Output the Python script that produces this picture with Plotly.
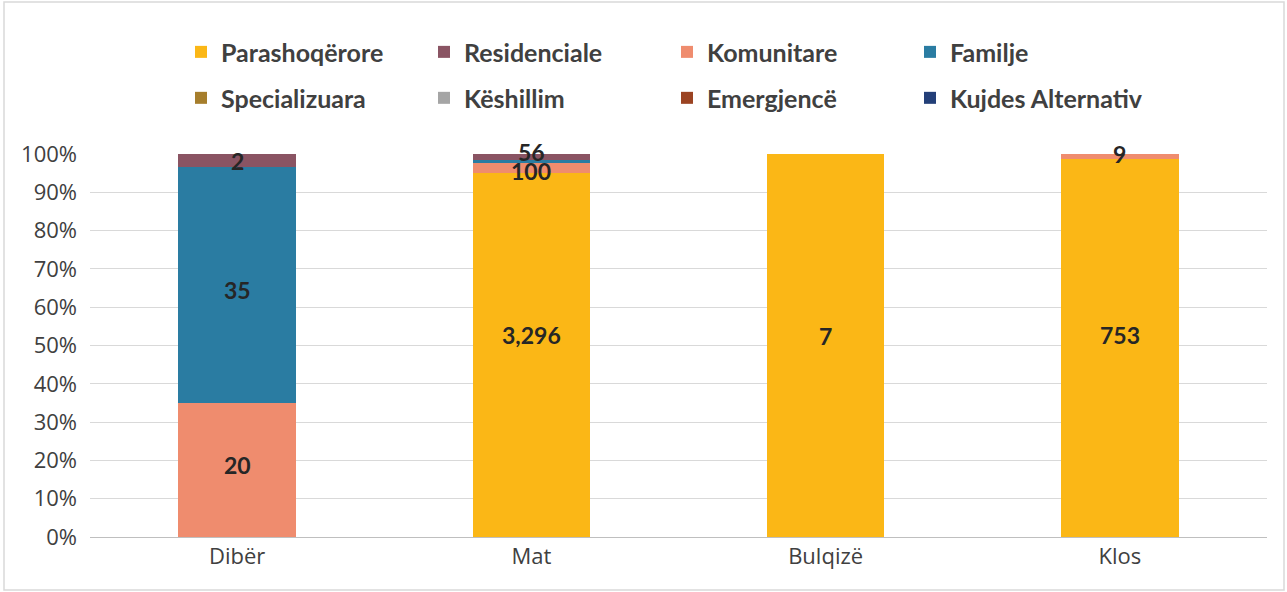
import plotly.graph_objects as go

categories = ["Dibër", "Mat", "Bulqizë", "Klos"]
series_names = ["Parashoqërore", "Residenciale", "Komunitare", "Familje",
                "Specializuara", "Këshillim", "Emergjencë", "Kujdes Alternativ"]
parashoqerore = [0, 3296, 7, 753]
residenciale = [2, 56, 0, 0]
komunitare = [20, 100, 0, 9]
familje = [35, 17, 0, 0]
specializuara = [0, 0, 0, 0]
keshillim = [0, 0, 0, 0]
emergjence = [0, 0, 0, 0]
kujdes_alternativ = [0, 0, 0, 0]
y_ticks = [0, 10, 20, 30, 40, 50, 60, 70, 80, 90, 100]
y_tick_labels = [f"{t}%" for t in y_ticks]

colors = {
    "Parashoqërore": "#FBB716",
    "Residenciale": "#8A5463",
    "Komunitare": "#EF8C6E",
    "Familje": "#2A7CA2",
    "Specializuara": "#A67E2C",
    "Këshillim": "#A5A5A5",
    "Emergjencë": "#9B4322",
    "Kujdes Alternativ": "#233F78",
}
values = {
    "Parashoqërore": parashoqerore,
    "Residenciale": residenciale,
    "Komunitare": komunitare,
    "Familje": familje,
    "Specializuara": specializuara,
    "Këshillim": keshillim,
    "Emergjencë": emergjence,
    "Kujdes Alternativ": kujdes_alternativ,
}
# stacking order bottom -> top
stack_order = ["Parashoqërore", "Komunitare", "Familje", "Residenciale",
               "Specializuara", "Këshillim", "Emergjencë", "Kujdes Alternativ"]
hidden_labels = {("Familje", "Mat")}
# small pixel nudges of data labels, as placed in the original
label_shift = {("Residenciale", "Mat"): 5, ("Komunitare", "Mat"): -3,
               ("Parashoqërore", "Mat"): 20, ("Parashoqërore", "Bulqizë"): 10,
               ("Parashoqërore", "Klos"): 13, ("Familje", "Dibër"): -5,
               ("Komunitare", "Dibër"): 5, ("Komunitare", "Klos"): 2}

fig = go.Figure()
for name in stack_order:
    leg = "legend" if series_names.index(name) < 4 else "legend2"
    fig.add_trace(go.Bar(
        name=name, x=categories, y=values[name],
        marker=dict(color=colors[name], line=dict(width=0)),
        legend=leg, legendrank=series_names.index(name),
    ))

totals = [sum(values[n][i] for n in series_names) for i in range(len(categories))]
annotations = []
for i, cat in enumerate(categories):
    cum = 0.0
    for name in stack_order:
        v = values[name][i]
        pct = v / totals[i] * 100
        if v > 0 and (name, cat) not in hidden_labels:
            annotations.append(dict(
                x=cat, y=cum + pct / 2, xref="x", yref="y",
                text=f"{v:,}", showarrow=False,
                yshift=label_shift.get((name, cat), 0),
                font=dict(family="Lato", size=23, color="#262626", weight="bold"),
            ))
        cum += pct

W, H = 1287, 592
ML, MR, MT, MB = 90, 20, 154, 55
PW, PH = W - ML - MR, H - MT - MB

leg_font = dict(family="Lato", size=25, color="#404040", weight="bold")
fig.update_layout(
    barmode="stack", barnorm="percent", bargap=0.6,
    width=W, height=H,
    margin=dict(l=ML, r=MR, t=MT, b=MB, autoexpand=False),
    paper_bgcolor="white", plot_bgcolor="white",
    font=dict(family="Open Sans", color="#404040", size=22),
    annotations=annotations,
    legend=dict(orientation="h", x=0.0773, y=1.266, xanchor="left", yanchor="middle",
                entrywidth=198, entrywidthmode="pixels", font=leg_font,
                itemwidth=30, traceorder="normal", bgcolor="rgba(0,0,0,0)"),
    legend2=dict(orientation="h", x=0.0773, y=1.146, xanchor="left", yanchor="middle",
                 entrywidth=198, entrywidthmode="pixels", font=leg_font,
                 itemwidth=30, traceorder="normal", bgcolor="rgba(0,0,0,0)"),
    shapes=[dict(type="rect", xref="paper", yref="paper",
                 x0=(4 - ML) / PW, x1=(1284 - ML) / PW,
                 y0=-(590 - MT - PH) / PH, y1=1 + (MT - 2) / PH,
                 line=dict(color="#D9D9D9", width=1.5))],
)
fig.update_yaxes(range=[0, 100], tickvals=y_ticks, ticktext=y_tick_labels,
                 showgrid=True, gridcolor="#D9D9D9", gridwidth=1,
                 zeroline=False, ticks="", ticklabelstandoff=12,
                 tickfont=dict(size=22, color="#404040"))
fig.update_xaxes(showline=True, linecolor="#BFBFBF", linewidth=1,
                 tickfont=dict(size=22, color="#404040"), ticks="")

fig.write_html("out.html", config={"displayModeBar": False},
               post_script="document.body.style.margin='0';")
